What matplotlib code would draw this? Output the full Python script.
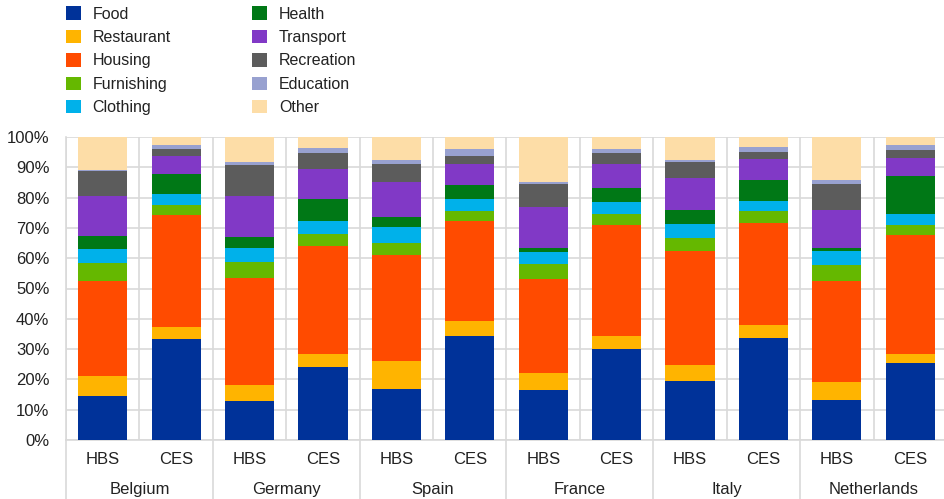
import numpy as np
import matplotlib
matplotlib.use('Agg')
import matplotlib.pyplot as plt
from matplotlib.patches import Patch

plt.rcParams['font.family'] = ['Liberation Sans', 'DejaVu Sans']

countries = ['Belgium', 'Germany', 'Spain', 'France', 'Italy', 'Netherlands']
surveys = ['HBS', 'CES']
categories = ['Food', 'Restaurant', 'Housing', 'Furnishing', 'Clothing',
              'Health', 'Transport', 'Recreation', 'Education', 'Other']
colors = ['#003299', '#FFB400', '#FF4B00', '#65B800', '#00B1EA',
          '#007816', '#8139C6', '#5C5C5C', '#98A1D0', '#FDDDA7']

# shares (%) per bar, order: BE HBS, BE CES, DE HBS, DE CES, ES HBS, ES CES,
# FR HBS, FR CES, IT HBS, IT CES, NL HBS, NL CES
food       = [14.6, 33.3, 13.0, 24.0, 16.8, 34.2, 16.6, 30.1, 19.6, 33.7, 13.3, 25.5]
restaurant = [ 6.5,  4.0,  5.1,  4.4,  9.4,  5.1,  5.5,  4.2,  5.0,  4.2,  5.8,  3.0]
housing    = [31.5, 37.1, 35.5, 35.6, 34.7, 33.0, 31.2, 36.7, 37.8, 33.7, 33.5, 39.2]
furnishing = [ 5.9,  3.1,  5.0,  4.0,  4.0,  3.4,  4.9,  3.7,  4.4,  3.9,  5.2,  3.1]
clothing   = [ 4.5,  3.6,  4.7,  4.3,  5.3,  3.9,  3.9,  3.7,  4.5,  3.5,  4.5,  3.8]
health     = [ 4.4,  6.7,  3.7,  7.3,  3.4,  4.6,  1.4,  4.8,  4.6,  6.7,  1.2, 12.5]
transport  = [13.1,  5.8, 13.5,  9.9, 11.7,  6.8, 13.4,  8.0, 10.7,  6.9, 12.5,  5.9]
recreation = [ 8.3,  2.4, 10.3,  5.3,  5.7,  2.7,  7.6,  3.5,  5.0,  2.5,  8.5,  2.8]
education  = [ 0.4,  1.3,  0.8,  1.6,  1.4,  2.2,  0.7,  1.2,  0.8,  1.5,  1.3,  1.5]
other      = [10.8,  2.7,  8.4,  3.6,  7.6,  4.1, 14.8,  4.1,  7.6,  3.4, 14.2,  2.7]

series = [food, restaurant, housing, furnishing, clothing,
          health, transport, recreation, education, other]

GRID = '#d9d9d9'
W, H = 944, 499

fig = plt.figure(figsize=(W / 100, H / 100), dpi=100)
# plot area runs slightly past the right edge like the original
ax = fig.add_axes([66 / W, 59 / H, 881 / W, 303 / H])

x = np.arange(len(countries) * len(surveys))
bottom = np.zeros(len(x))
for vals, col, name in zip(series, colors, categories):
    v = np.array(vals)
    ax.bar(x, v, 0.67, bottom=bottom, color=col, label=name, zorder=3,
           edgecolor='none')
    bottom += v

ax.set_xlim(-0.5, len(x) - 0.5)
ax.set_ylim(0, 100)
ax.set_yticks(np.arange(0, 101, 10))
ax.set_yticklabels(['%d%%' % t for t in range(0, 101, 10)], fontsize=12,
                   color='#222222')
ax.tick_params(axis='y', length=0, pad=12)

ax.set_xticks(x)
ax.set_xticklabels(surveys * len(countries), fontsize=12, color='#222222')
ax.tick_params(axis='x', which='major', length=0, pad=9)
ax.set_xticks(np.arange(-0.5, len(x)), minor=True)
ax.tick_params(axis='x', which='minor', length=0)

ax.grid(axis='y', color=GRID, linewidth=1.2, zorder=0)
ax.grid(axis='x', which='minor', color=GRID, linewidth=1.2, zorder=0)
ax.grid(axis='x', which='major', visible=False)

for s in ['top', 'right']:
    ax.spines[s].set_visible(False)
ax.spines['left'].set_color(GRID)
ax.spines['bottom'].set_color(GRID)
ax.spines['left'].set_linewidth(1.2)
ax.spines['bottom'].set_linewidth(1.2)

# group separators run down through the label area
for g in range(len(countries) + 1):
    ax.plot([g * 2 - 0.5] * 2, [0, -0.2], transform=ax.get_xaxis_transform(),
            color=GRID, linewidth=1.2, clip_on=False, zorder=1)
for g, c in enumerate(countries):
    ax.text(g * 2 + 0.5, -0.163, c, transform=ax.get_xaxis_transform(),
            ha='center', va='center', fontsize=12, color='#222222')

handles = [Patch(facecolor=c, edgecolor='none') for c in colors]
fig.legend(handles, categories, ncol=2, loc='upper left',
           bbox_to_anchor=(52 / W, 1 + 8 / H), frameon=False, fontsize=11.5,
           handlelength=0.9, handleheight=0.9, handletextpad=0.75,
           labelspacing=0.52, columnspacing=5.1, labelcolor='#222222')

fig.savefig('out.png', dpi=100)
